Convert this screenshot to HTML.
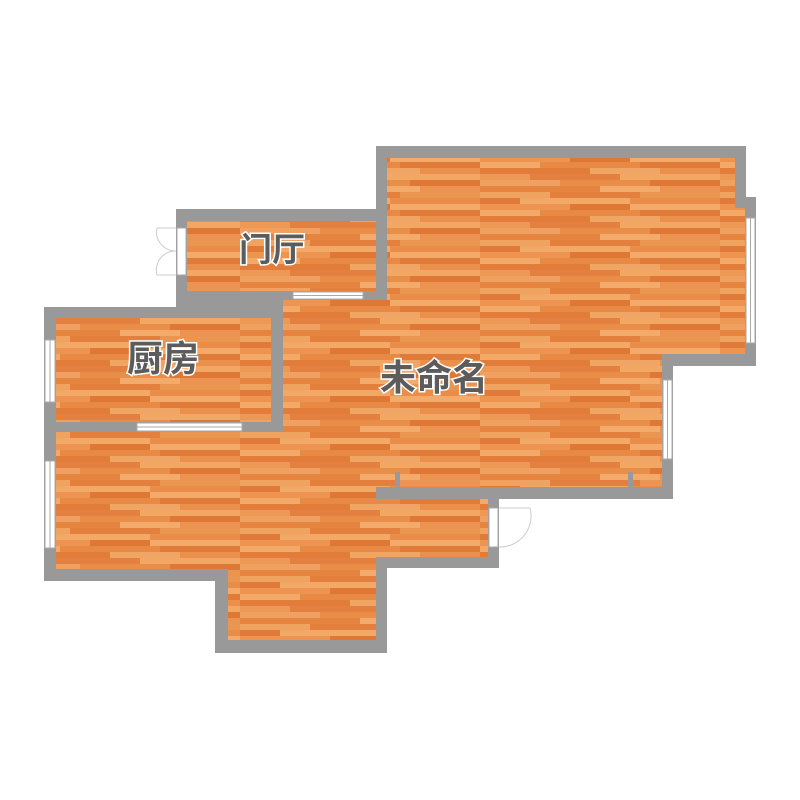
<!DOCTYPE html>
<html><head><meta charset="utf-8"><style>
html,body{margin:0;padding:0;background:#fff;}
svg{display:block}
.lbl{font-family:"Liberation Sans","Noto Sans CJK SC",sans-serif;fill:#5c5c5c;stroke:#fff;stroke-width:3px;paint-order:stroke;font-weight:bold}
</style></head><body>
<svg width="800" height="800" viewBox="0 0 800 800" xmlns="http://www.w3.org/2000/svg">
<defs>
<pattern id="wood" width="240" height="48" patternUnits="userSpaceOnUse">
<rect width="240" height="48" fill="#e98d48"/>
<rect x="0" y="0" width="70" height="6" fill="#f0a25f"/><rect x="70" y="0" width="90" height="6" fill="#e4803d"/><rect x="160" y="0" width="80" height="6" fill="#eb9552"/>
<rect x="0" y="6" width="40" height="6" fill="#e07a38"/><rect x="40" y="6" width="110" height="6" fill="#f2a866"/><rect x="150" y="6" width="90" height="6" fill="#e98d48"/>
<rect x="0" y="12" width="90" height="6" fill="#ec9450"/><rect x="90" y="12" width="60" height="6" fill="#df7735"/><rect x="150" y="12" width="90" height="6" fill="#f3aa6a"/>
<rect x="0" y="18" width="60" height="6" fill="#f3a968"/><rect x="60" y="18" width="100" height="6" fill="#e88a45"/><rect x="160" y="18" width="80" height="6" fill="#e17b39"/>
<rect x="0" y="24" width="110" height="6" fill="#e27c3a"/><rect x="110" y="24" width="70" height="6" fill="#f1a564"/><rect x="180" y="24" width="60" height="6" fill="#ea904c"/>
<rect x="0" y="30" width="50" height="6" fill="#ed9854"/><rect x="50" y="30" width="90" height="6" fill="#e38040"/><rect x="140" y="30" width="100" height="6" fill="#f2a765"/>
<rect x="0" y="36" width="80" height="6" fill="#f0a161"/><rect x="80" y="36" width="90" height="6" fill="#e98e49"/><rect x="170" y="36" width="70" height="6" fill="#df7836"/>
<rect x="0" y="42" width="120" height="6" fill="#e5843f"/><rect x="120" y="42" width="60" height="6" fill="#f3ab6b"/><rect x="180" y="42" width="60" height="6" fill="#eb9350"/>
</pattern>
</defs>
<polygon fill="#999" points="376,146 746,146 746,197 756,197 756,366 673,366 673,499 499,499 499,568 387,568 387,653 215,653 215,581 44,581 44,307 176,307 176,209 376,209"/>
<rect x="187" y="221" width="189" height="70" fill="url(#wood)"/>
<rect x="56" y="318" width="215" height="104" fill="url(#wood)"/>
<polygon fill="url(#wood)" points="387,158 735,158 735,208 745,208 745,354 662,354 662,487 376,487 376,499 488,499 488,557 376,557 376,640 228,640 228,569 56,569 56,432 283,432 283,300 387,300"/>
<rect x="395" y="472" width="5" height="15" fill="#999"/>
<rect x="628" y="472" width="5" height="15" fill="#999"/>
<g fill="#fff" stroke="#aaa" stroke-width="1">
<rect x="45" y="340" width="10" height="62"/><line x1="50" y1="340" x2="50" y2="402"/>
<rect x="45" y="461" width="10" height="87"/><line x1="50" y1="461" x2="50" y2="548"/>
<rect x="746" y="218" width="9" height="125"/><line x1="750.5" y1="218" x2="750.5" y2="343"/>
<rect x="663" y="380" width="9" height="79"/><line x1="667.5" y1="380" x2="667.5" y2="459"/>
<rect x="137" y="423" width="105" height="8"/><line x1="137" y1="427" x2="242" y2="427"/>
<rect x="293" y="292" width="70" height="7"/><line x1="293" y1="295.5" x2="363" y2="295.5"/>
<rect x="177" y="228" width="9" height="47"/>
<rect x="489" y="508" width="9" height="39"/>
</g>
<g fill="none" stroke="#ccc" stroke-width="1">
<path d="M176,228 L157,228 A19,19 0 0 0 176,251"/>
<path d="M176,275 L157,275 A19,19 0 0 1 176,251"/>
<path d="M499,508 L530,508 A31,31 0 0 1 499,547"/>
</g>
<text class="lbl" x="272" y="261" text-anchor="middle" font-size="33">门厅</text>
<text class="lbl" x="163" y="371" text-anchor="middle" font-size="36">厨房</text>
<text class="lbl" x="434" y="390" text-anchor="middle" font-size="36">未命名</text>
</svg>
</body></html>
